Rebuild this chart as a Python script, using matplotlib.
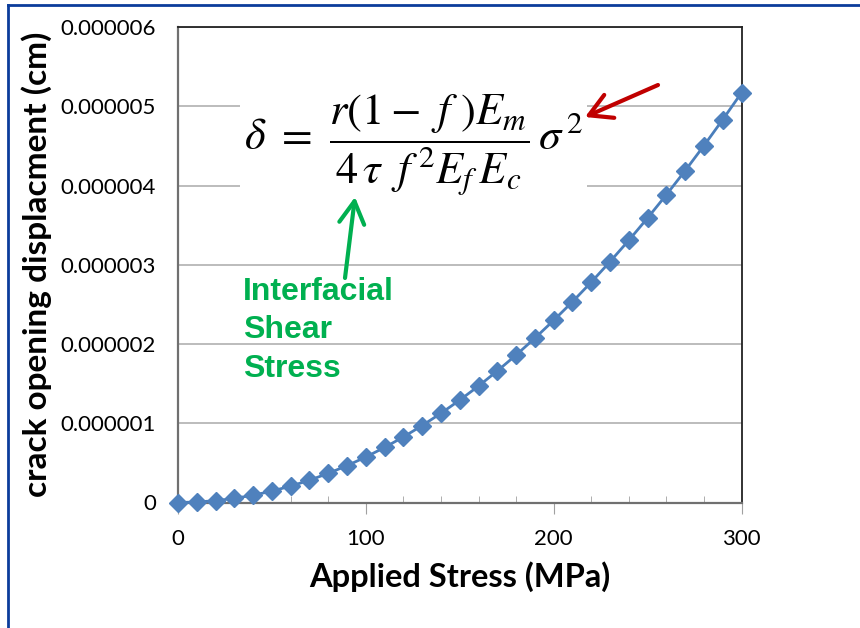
import numpy as np
import matplotlib
matplotlib.use('agg')
from matplotlib import pyplot as plt
from matplotlib.lines import Line2D
from matplotlib.ticker import MultipleLocator, FuncFormatter

# applied stress (MPa) and crack opening displacement (cm)
stress = [0, 10, 20, 30, 40, 50, 60, 70, 80, 90, 100, 110, 120, 130, 140, 150,
          160, 170, 180, 190, 200, 210, 220, 230, 240, 250, 260, 270, 280, 290, 300]
cod = [0.0, 0.006e-6, 0.023e-6, 0.052e-6, 0.092e-6, 0.144e-6, 0.207e-6, 0.281e-6,
       0.368e-6, 0.465e-6, 0.574e-6, 0.695e-6, 0.827e-6, 0.971e-6, 1.126e-6,
       1.292e-6, 1.470e-6, 1.660e-6, 1.861e-6, 2.074e-6, 2.298e-6, 2.533e-6,
       2.780e-6, 3.039e-6, 3.308e-6, 3.590e-6, 3.883e-6, 4.187e-6, 4.503e-6,
       4.831e-6, 5.170e-6]
y_ticks = [0, 1e-6, 2e-6, 3e-6, 4e-6, 5e-6, 6e-6]
x_ticks = [0, 100, 200, 300]

plt.rcParams['font.family'] = ['Lato', 'DejaVu Sans']
plt.rcParams['mathtext.fontset'] = 'stix'

fig = plt.figure(figsize=(8.6, 6.28), dpi=100)
W, H = 860, 628
ax = fig.add_axes([178 / W, 1 - 502.5 / H, (741.5 - 178) / W, (502.5 - 27) / H])

ax.plot(stress, cod, '-', color='#4a7ebb', lw=2, marker='D', ms=9.5,
        mfc='#4f81bd', mec='#4f81bd', clip_on=False, zorder=5)

ax.set_xlim(0, 300)
ax.set_ylim(0, 6e-6)
ax.set_xticks(x_ticks)
ax.set_yticks(y_ticks)
ax.xaxis.set_minor_locator(MultipleLocator(20))
ax.yaxis.set_major_formatter(FuncFormatter(lambda v, p: '0' if v == 0 else '%.6f' % v))
ax.tick_params(axis='x', which='major', direction='out', length=8, color='#a0a0a0',
               labelsize=16, pad=11)
ax.tick_params(axis='x', which='minor', direction='in', length=5, color='#a0a0a0')
ax.tick_params(axis='y', length=0, labelsize=16, pad=16)
ax.grid(axis='y', color='#b0b0b0', lw=1.2)
ax.set_axisbelow(True)
for s in ['top', 'right']:
    ax.spines[s].set_color('#222222')
    ax.spines[s].set_linewidth(1.3)
for s in ['left', 'bottom']:
    ax.spines[s].set_color('#707070')
    ax.spines[s].set_linewidth(1.6)

ax.set_xlabel('Applied Stress (MPa)', fontsize=23.5, fontweight='bold', labelpad=9)
ax.set_ylabel('crack opening displacment (cm)', fontsize=24, fontweight='bold', labelpad=6)

# formula with white box covering the grid lines
ax.text(0.418, 0.752,
        r'$\delta\ =\ \dfrac{r(1-\ f\ )E_m}{4\,\tau\ \, f^{\,2}E_f\, E_c}\,\sigma^{\,2}$',
        transform=ax.transAxes, ha='center', va='center', fontsize=32,
        bbox=dict(facecolor='white', edgecolor='none', pad=3), zorder=6)

# green label and arrows
ax.text(0.115, 0.475, 'Interfacial\nShear\nStress', transform=ax.transAxes,
        ha='left', va='top', fontsize=23, fontweight='bold', color='#00b050',
        family=['Liberation Sans'], linespacing=1.38, zorder=6)
arrow_style = '->,head_length=0.8,head_width=0.45'
ax.annotate('', xy=(355 / W, 1 - 197 / H), xytext=(345 / W, 1 - 278 / H),
            xycoords='figure fraction', textcoords='figure fraction',
            arrowprops=dict(arrowstyle=arrow_style, color='#00b050', lw=3,
                            mutation_scale=20, shrinkA=0, shrinkB=0), zorder=7)
ax.annotate('', xy=(585 / W, 1 - 117 / H), xytext=(658 / W, 1 - 85 / H),
            xycoords='figure fraction', textcoords='figure fraction',
            arrowprops=dict(arrowstyle=arrow_style, color='#c00000', lw=3,
                            mutation_scale=20, shrinkA=0, shrinkB=0), zorder=7)

# slide border
fig.add_artist(Line2D([8 / W, 8 / W], [0, 1 - 5 / H], color='#0b3c9b', lw=2))
fig.add_artist(Line2D([8 / W, 1], [1 - 5 / H, 1 - 5 / H], color='#0b3c9b', lw=2))

fig.savefig('out.png', dpi=100)
